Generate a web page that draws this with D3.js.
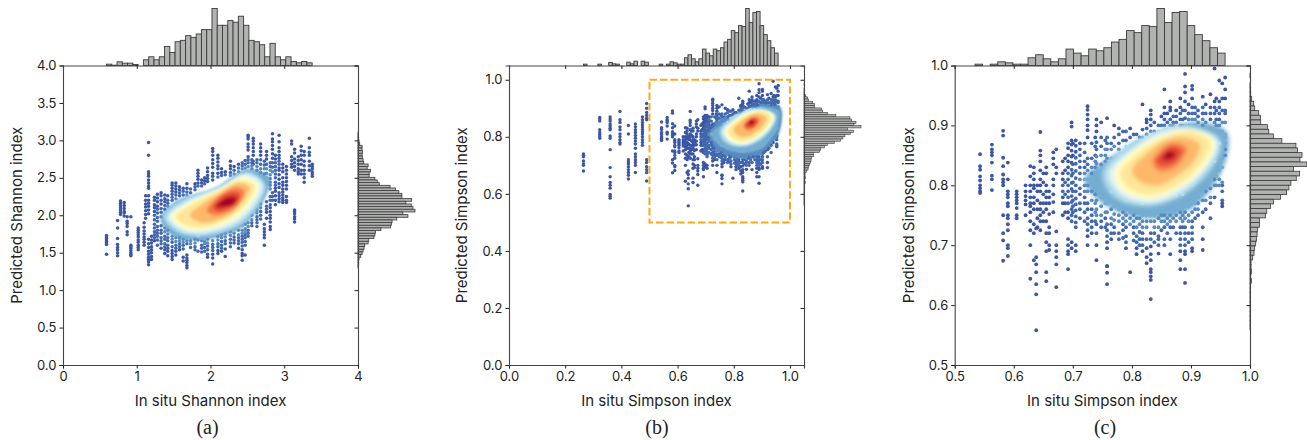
<!DOCTYPE html>
<html>
<head>
<meta charset="utf-8">
<script src="https://cdn.jsdelivr.net/npm/d3@7"></script>
<style>
  html, body { margin: 0; padding: 0; background: #fff; }
  text { font-family: Inter, "Noto Sans", sans-serif; fill: #222; }
  .caption { font-family: "Liberation Serif", serif; font-size: 20px; }
</style>
</head>
<body>
<div id="chart"></div>
<script>
var shannonColumns = [
  [.59,[1.73,1.71,1.69,1.67,1.65,1.63,1.61,1.48]],
  [.74,[1.93,1.83,1.69,1.61,1.57,1.54,1.5,1.46]],
  [.78,[2.19,2.16,2.13,2.1,2.07,2.04,2.01]],
  [.83,[2.17,2.13,2.09,2.05,2.03,1.99]],
  [.87,[1.98,1.92,1.89,1.85,1.78,1.74]],
  [.92,[1.98,1.6,1.58,1.56,1.53,1.5,1.48,1.46]],
  [1.02,[1.83,1.8,1.77,1.74,1.71,1.67,1.64,1.6,1.57,1.54]],
  [1.1,[1.9,1.84,1.79,1.75,1.71,1.68,1.64,1.6]],
  [1.12,[2.26,2.2,2.15,2.11,2.06,2.01,1.96]],
  [1.16,[2.97,2.8,2.58,2.55,2.52,2.47,2.43,2.39,2.36,2.26,2.2,2.16,2.12,2.07,2.02,1.68,1.62,1.57,1.52,1.48,1.44,1.41,1.38,1.34]],
  [1.2,[1.72,1.67,1.63,1.58,1.54,1.5,1.45,1.41]],
  [1.24,[2.24,2.2,2.14,2.1,2.05,2,1.94,1.88,1.83,1.78,1.74,1.7,1.66]],
  [1.28,[2.28,2.23,2.18,2.12,2.08,2.03,1.97,1.92,1.85,1.8,1.76,1.72,1.67,1.6]],
  [1.33,[2.3,2.26,2.2,2.15,2.09,2.04,1.98,1.86,1.8,1.76,1.7,1.66,1.62,1.56]],
  [1.38,[2.27,2.22,2.18,2.13,2.08,1.83,1.78,1.72,1.68,1.62,1.58,1.54,1.49]],
  [1.42,[2.26,2.2,2.16,2.12,1.8,1.75,1.7,1.66,1.6,1.56,1.52,1.46]],
  [1.48,[2.43,2.4,2.36,2.32,2.28,2.24,2.2,1.78,1.72,1.68,1.64,1.58,1.53,1.49,1.45,1.41]],
  [1.53,[2.43,2.39,2.35,2.31,2.27,2.22,1.75,1.7,1.65,1.6,1.56,1.52,1.47]],
  [1.58,[2.38,2.34,2.3,2.26,1.74,1.7,1.66,1.62,1.58,1.54]],
  [1.63,[2.36,2.32,2.27,1.72,1.68,1.64,1.6,1.55,1.44,1.39]],
  [1.68,[2.42,2.36,2.31,2.27,1.7,1.66,1.62,1.47,1.43,1.4,1.37,1.33,1.3]],
  [1.73,[2.35,2.3,1.7,1.66,1.62,1.57]],
  [1.79,[2.42,2.38,2.34,1.72,1.68,1.63,1.58,1.54]],
  [1.83,[2.6,2.56,2.52,2.48,2.43,2.39,1.73,1.67,1.52]],
  [1.88,[2.47,2.43,2.39,1.7,1.66,1.6,1.56,1.51]],
  [1.92,[2.5,2.46,2.42,1.69,1.65,1.62,1.57,1.52]],
  [1.96,[2.63,2.58,2.53,2.49,2.45,1.68,1.63,1.59,1.54,1.48,1.44]],
  [2.03,[2.89,2.85,2.8,2.74,2.69,2.64,2.56,2.52,2.47,1.66,1.61,1.57,1.53,1.48,1.43,1.35]],
  [2.1,[2.8,2.76,2.71,2.66,2.62,2.56,2.51,1.72,1.67,1.62,1.58,1.53,1.49]],
  [2.15,[2.62,2.57,2.53,1.74,1.7,1.65,1.6,1.56,1.52]],
  [2.2,[2.58,2.54,1.76,1.71,1.66,1.62,1.55,1.45]],
  [2.27,[2.72,2.66,2.62,2.57,2.53,1.78,1.73,1.68,1.63,1.58]],
  [2.32,[2.65,2.6,2.55,1.82,1.76,1.71,1.67,1.63]],
  [2.38,[2.68,2.63,2.58,1.86,1.8,1.74,1.7,1.66,1.62,1.56]],
  [2.43,[2.7,2.66,2.62,1.86,1.8,1.76,1.72,1.68,1.64,1.59,1.54,1.49,1.46,1.4]],
  [2.47,[2.73,2.68,2.63,1.88,1.82,1.78,1.74,1.7,1.65,1.6,1.47]],
  [2.51,[3.07,3.05,3.02,2.95,2.91,2.87,2.78,2.74,2.7,2.65,1.9,1.85,1.8,1.76,1.72]],
  [2.56,[2.74,2.7,2.66,2.62,2.15,2.1,2.05,2,1.94,1.9,1.86]],
  [2.58,[3.03,2.99,2.95,2.9,2.85,2.8,2.72,2.68]],
  [2.63,[2.74,2.7,2.65,2.6,2.12,2.07,2.03,1.98,1.94,1.9,1.85]],
  [2.68,[2.95,2.9,2.85,2.8,2.74,2.68,2.62,2.57,2.15,2.1,2.05,2,1.95]],
  [2.73,[2.72,2.67,2.62,2.55,2.5,1.88,1.82,1.78,1.74,1.7,1.6]],
  [2.76,[2.85,2.8,2.75,2.68,2.62,2.56,2.5,2.45,2.42,2.18,2.12,2.08,2.04,1.96]],
  [2.81,[2.7,2.65,2.6,2.54,2.49,2.44,2.4,2.35,2.25,2.2,2.14,2.1,2.05,2,1.96,1.91,1.85,1.81]],
  [2.84,[3.09,3.02,2.98,2.93,2.88,2.82,2.76,2.7,2.64,2.58,2.3,2.25,2.2]],
  [2.88,[2.8,2.75,2.7,2.65,2.6,2.55,2.5,2.44,2.4,2.36,2.32,2.26,2.2,2.14]],
  [2.93,[3.07,2.98,2.9,2.85,2.8,2.76,2.72,2.68,2.63,2.6,2.54,2.48,2.42,2.37,2.3,2.26,2.22,2.18]],
  [2.98,[2.68,2.63,2.58,2.5,2.44,2.4,2.35,2.31,2.27,2.23,2.2,2.17]],
  [3.03,[2.65,2.6,2.55,2.5,2.45,2.4,2.35,2.25,2.2,2.17]],
  [3.1,[2.99,2.95,2.78,2.73,2.68,2.64]],
  [3.14,[2.88,2.83,2.75,2.7,2.65,2.6,2.07,2.05,2.02,1.98,1.95,1.91]],
  [3.19,[2.78,2.73,2.68,2.62,2.58,2.55]],
  [3.23,[2.92,2.86,2.8,2.74,2.68,2.6,2.55]],
  [3.27,[2.85,2.8,2.72,2.66,2.6,2.55,2.5,2.44]],
  [3.34,[3.03,2.9,2.84,2.8,2.72,2.66,2.6]],
  [3.38,[2.68,2.65,2.62,2.58,2.55,2.52]]
];

var simpsonColumns = [
  [.265,[.74,.735,.73,.715,.705,.7,.68]],
  [.323,[.868,.862,.855,.825,.815,.808,.8,.795]],
  [.36,[.87,.862,.855,.845,.838,.83,.825,.803,.795,.755,.692,.66,.64,.63,.62,.598,.592,.585]],
  [.395,[.889,.86,.85,.835,.825,.81,.8,.79,.78,.775]],
  [.425,[.84,.81,.72,.712,.705,.695,.685,.675,.665,.652]],
  [.45,[.845,.835,.825,.815,.805,.795,.785,.775,.76,.74,.73,.72,.71,.7,.675]],
  [.475,[.87,.86,.85,.842,.834,.826,.818,.81,.8,.79,.78,.77]],
  [.49,[.917,.9,.885,.875,.865,.86,.72,.71,.695,.685,.675,.645]],
  [.543,[.852,.832,.826,.815,.808,.8,.795,.79,.787]],
  [.563,[.868,.86,.855,.85,.838,.816,.81,.792]],
  [.582,[.891,.883,.846,.832,.818,.81,.805,.8,.75,.72,.708,.674]],
  [.59,[.838,.81,.79,.785,.78,.77,.765,.75,.745,.735,.725,.7,.695,.682]],
  [.605,[.79,.785,.78,.775,.77,.762,.75,.745]],
  [.62,[.8,.79,.782,.775,.768,.75]],
  [.628,[.832,.815,.8,.79,.78,.77,.765,.755,.74,.725,.7,.644]],
  [.634,[.83,.82,.81,.8,.795,.78,.77,.76,.735,.72,.675]],
  [.638,[.728,.68,.668,.655,.635,.618,.558]],
  [.64,[.8,.79,.775,.76,.745,.73]],
  [.645,[.889,.858,.85,.84,.825,.81,.8,.79,.77,.76,.75,.74,.725]],
  [.65,[.82,.805,.785,.77,.755,.74]],
  [.655,[.83,.82,.8,.79,.78,.77,.76,.74,.72,.705,.69,.655,.64]],
  [.66,[.79,.78,.77,.752,.73,.72,.7,.692]],
  [.667,[.855,.845,.835,.81,.8,.785,.772,.755]],
  [.672,[.86,.83,.82,.723,.7,.69,.68,.668,.63]],
  [.683,[.84,.82,.81,.8,.79,.78,.77,.75]],
  [.687,[.845,.825,.805,.785,.77,.755]],
  [.692,[.87,.862,.85,.84,.83,.82,.81,.8,.79,.78,.77,.755,.745,.71,.7,.69,.685,.66]],
  [.698,[.905,.898,.875,.868,.858,.848,.838,.826,.816,.804,.794,.782,.772,.76,.75,.74,.705,.695]],
  [.7,[.87,.85,.835,.82,.805,.79,.775,.765,.755]],
  [.705,[.875,.866,.856,.846,.836,.824,.812,.8,.79,.778,.768,.758,.748,.738,.73,.7,.69]],
  [.712,[.87,.86,.85,.84,.83,.82,.81,.795,.785,.77,.76,.745]],
  [.72,[.87,.855,.84,.83,.82,.81,.8,.79,.78,.77,.755,.74]],
  [.725,[.932,.926,.918,.91,.9,.892,.88,.845,.835,.825,.81,.8,.79,.77,.76,.745,.735,.725,.715,.7]],
  [.732,[.87,.845,.83,.82,.81,.79,.775,.76,.75,.74,.73,.72]],
  [.738,[.88,.865,.85,.84,.83,.82,.81,.795,.785,.77,.755,.74]],
  [.74,[.91,.9,.89,.872,.86,.848,.836,.82,.805,.79,.775,.76,.75,.735,.72,.7,.675]],
  [.748,[.905,.88,.865,.85,.835,.822,.81,.795,.78,.765,.75,.74,.73]],
  [.755,[.875,.86,.85,.84,.8,.785,.77,.755,.745,.73]],
  [.758,[.912,.88,.87,.86,.845,.83,.81,.79,.77,.755,.735,.725,.715,.705,.695,.665,.665,.654,.635]],
  [.765,[.87,.86,.845,.83,.815,.79,.775,.76,.745,.735,.72,.71]],
  [.77,[.9,.88,.865,.775,.765,.752,.742,.73,.72]],
  [.778,[.895,.885,.87,.86,.85,.835,.82,.8,.785,.77,.76,.75,.74,.72,.71]],
  [.785,[.89,.875,.765,.755,.745,.735,.725,.712]],
  [.79,[.89,.875,.865,.855,.84,.825,.79,.775,.76,.75,.74,.73,.715,.705,.695]],
  [.797,[.895,.88,.866,.85,.78,.768,.755,.745,.735,.655]],
  [.803,[.885,.87,.775,.762,.75,.74,.73,.72,.708]],
  [.808,[.885,.872,.862,.775,.765,.755,.745,.73,.715,.705,.695,.685]],
  [.813,[.88,.875,.765,.755,.745,.735,.722,.71,.7]],
  [.818,[.935,.893,.88,.87,.77,.76,.75,.74,.73,.72,.71,.7,.69]],
  [.825,[.91,.905,.895,.885,.875,.762,.75,.74,.73,.71,.695,.68,.67]],
  [.832,[.925,.918,.91,.9,.89,.88,.76,.75,.74,.72,.71,.698,.685,.675,.66,.655,.648,.642,.61]],
  [.838,[.905,.89,.885,.76,.75,.74,.73,.72,.705]],
  [.845,[.9,.89,.88,.765,.755,.745,.73,.715,.71,.7,.686]],
  [.85,[.915,.9,.89,.77,.76,.75,.74,.725]],
  [.855,[.96,.93,.92,.91,.9,.893,.772,.76,.75,.74,.73,.71,.7]],
  [.86,[.92,.905,.895,.77,.755,.745,.735,.72]],
  [.865,[.94,.93,.925,.91,.9,.893,.775,.76,.75,.74,.73,.71,.685]],
  [.87,[.915,.905,.9,.775,.765,.755,.745,.73]],
  [.875,[.925,.915,.905,.895,.783,.77,.76,.75,.74,.72]],
  [.882,[.945,.93,.92,.91,.9,.79,.778,.765,.755,.745,.73,.72,.71,.7,.69,.675,.66]],
  [.886,[.925,.91,.9,.785,.77,.76,.75,.74,.73]],
  [.89,[.986,.965,.955,.94,.925,.912,.9,.795,.78,.77,.755,.745,.73,.72,.71,.7,.69,.685,.66,.637]],
  [.896,[.935,.92,.91,.9,.79,.775,.765,.75,.74,.72,.705]],
  [.902,[.966,.96,.945,.93,.92,.91,.9,.8,.785,.77,.755,.74,.73,.72,.71,.695,.69]],
  [.907,[.93,.92,.91,.9,.805,.79,.78,.77,.76,.745]],
  [.912,[.925,.915,.905,.895,.815,.8,.79,.78,.77,.76,.75]],
  [.92,[.948,.93,.92,.91,.9,.89,.825,.81,.79,.775,.755,.73,.71,.692]],
  [.925,[.935,.92,.905,.895,.82,.805,.79,.775,.76]],
  [.933,[.952,.93,.92,.91,.895,.885,.835,.82,.81,.795,.78,.77,.745]],
  [.94,[.995,.94,.93,.92,.905,.89,.88,.85,.84,.825,.81,.8,.78]],
  [.943,[.945,.925,.91,.9,.89,.845,.83,.815,.8]],
  [.948,[.975,.94,.93,.92,.91,.9,.89,.88,.87,.86,.85,.84,.825,.81,.8]],
  [.953,[.97,.945,.925,.905,.89,.875,.86,.845,.83,.805,.8,.79,.775,.77,.765]],
  [.958,[.98,.96,.945,.925,.92,.905,.885,.88,.87,.86,.85]]
];

// how crowded the cloud gets: [level, closed outline of that level in data units]
var shannonLevels = [
  [.08,[[2.95,2.75],[2.5,2.75],[2,2.45],[1.5,2.3],[1.2,2],[1.25,1.6],[1.9,1.5],[2.5,1.6],[2.85,2.2]]],
  [.14,[[2.85,2.6],[2.5,2.68],[2,2.38],[1.5,2.22],[1.28,1.95],[1.45,1.65],[1.9,1.6],[2.45,1.75],[2.8,2.25]]],
  [.2,[[2.8,2.5],[2.5,2.62],[2.05,2.35],[1.55,2.2],[1.32,1.96],[1.5,1.72],[1.9,1.67],[2.4,1.82],[2.75,2.25]]],
  [.3,[[2.74,2.42],[2.5,2.58],[2.1,2.38],[1.6,2.2],[1.36,1.98],[1.55,1.77],[1.9,1.72],[2.4,1.87],[2.7,2.22]]],
  [.4,[[2.7,2.42],[2.48,2.55],[2.1,2.36],[1.65,2.17],[1.42,1.98],[1.6,1.8],[1.9,1.76],[2.38,1.92],[2.66,2.24]]],
  [.5,[[2.65,2.4],[2.45,2.51],[2.1,2.34],[1.68,2.15],[1.47,1.98],[1.63,1.83],[1.9,1.8],[2.35,1.96],[2.6,2.24]]],
  [.58,[[2.6,2.39],[2.42,2.47],[2.1,2.32],[1.72,2.13],[1.53,1.98],[1.68,1.86],[1.92,1.84],[2.32,2],[2.55,2.25]]],
  [.68,[[2.53,2.37],[2.38,2.43],[2.12,2.29],[1.85,2.12],[1.72,2],[1.82,1.92],[2,1.91],[2.3,2.04],[2.48,2.26]]],
  [.78,[[2.46,2.32],[2.36,2.37],[2.18,2.3],[2.02,2.17],[1.95,2.06],[2.05,2],[2.18,2.02],[2.34,2.1],[2.43,2.22]]],
  [.86,[[2.4,2.27],[2.32,2.31],[2.18,2.27],[2.07,2.17],[2.03,2.1],[2.1,2.05],[2.2,2.07],[2.32,2.13],[2.38,2.2]]],
  [.94,[[2.36,2.23],[2.29,2.26],[2.18,2.22],[2.09,2.15],[2.07,2.11],[2.13,2.1],[2.22,2.11],[2.32,2.15]]],
  [1,[[2.33,2.2],[2.26,2.23],[2.18,2.2],[2.12,2.15],[2.12,2.12],[2.18,2.13],[2.26,2.13],[2.32,2.16]]]
];
var simpsonLevels = [
  [.08,[[.965,.93],[.9,.935],[.82,.9],[.72,.875],[.68,.8],[.7,.73],[.8,.7],[.9,.7],[.96,.78]]],
  [.14,[[.965,.905],[.9,.915],[.83,.885],[.75,.86],[.705,.81],[.74,.75],[.82,.725],[.9,.74],[.96,.81]]],
  [.2,[[.96,.89],[.9,.905],[.83,.875],[.77,.85],[.72,.81],[.75,.77],[.82,.745],[.9,.76],[.955,.83]]],
  [.3,[[.95,.875],[.9,.9],[.85,.895],[.79,.865],[.75,.82],[.77,.78],[.825,.765],[.89,.785],[.94,.835]]],
  [.4,[[.945,.875],[.9,.895],[.85,.89],[.8,.86],[.76,.82],[.78,.785],[.83,.77],[.885,.79],[.935,.84]]],
  [.5,[[.94,.875],[.9,.893],[.855,.885],[.805,.86],[.77,.82],[.785,.79],[.83,.777],[.885,.798],[.93,.84]]],
  [.58,[[.932,.872],[.9,.89],[.86,.882],[.815,.857],[.78,.82],[.795,.795],[.835,.785],[.885,.805],[.92,.84]]],
  [.68,[[.915,.868],[.89,.88],[.86,.876],[.825,.853],[.8,.825],[.815,.805],[.845,.8],[.875,.815],[.905,.84]]],
  [.78,[[.893,.862],[.877,.87],[.86,.868],[.845,.855],[.835,.84],[.843,.825],[.858,.824],[.875,.832],[.888,.848]]],
  [.86,[[.885,.857],[.872,.865],[.86,.862],[.848,.85],[.84,.84],[.85,.833],[.862,.833],[.875,.84],[.882,.85]]],
  [.94,[[.875,.855],[.868,.858],[.86,.857],[.853,.85],[.85,.845],[.856,.842],[.864,.842],[.872,.846]]],
  [1,[[.87,.853],[.865,.856],[.859,.855],[.856,.85],[.856,.846],[.861,.844],[.867,.846],[.871,.85]]]
];

var shannonTopStart = .59, shannonTopStep = .0715;
var shannonTop = [4,1,11,7,7,3,0,17,26,17,26,57,39,71,75,89,84,94,107,107,170,120,120,134,129,147,120,75,71,62,26,66,26,17,26,12,8,12,8];
var shannonSideStart = 3.112, shannonSideStep = -.0356;
var shannonSide = [1,1,2,3,5,12,12,13,12,13,15,17,30,27,37,33,33,50,57,63,95,111,121,130,130,159,142,158,163,169,133,148,115,101,99,96,68,52,50,47,32,30,20,18,15,12,8,3,2,2,1];

var simpsonTopStart = .265, simpsonTopStep = .01283;
var simpsonTop = [4,0,0,0,4,0,0,9,5,4,0,0,10,5,13,0,13,10,0,0,0,4,0,4,11,8,4,4,23,32,20,11,20,49,37,29,49,44,53,70,78,104,98,119,116,170,128,158,161,119,92,74,53,37];
var simpsonSideStart = .987, simpsonSideStep = -.00779;
var simpsonSide = [1,0,1,1,2,5,11,14,26,31,32,52,56,70,95,137,142,155,149,170,130,148,138,122,116,109,91,70,61,50,46,28,28,22,21,19,17,13,12,8,3,3,4,2,4,1,1,1,1,1,1,1,1,1,1];

var xTicksA = [0,1,2,3,4], yTicksA = [0,.5,1,1.5,2,2.5,3,3.5,4];
var ticksB = [0,.2,.4,.6,.8,1];
var ticksC = [.5,.6,.7,.8,.9,1];

var color_range = ['#313695','#4575b4','#74add1','#abd9e9','#e0f3f8','#ffffbf','#fee090','#fdae61','#f46d43','#d73027','#a50026'];
var colorScale = d3.scaleLinear()
  .domain([0,.1,.2,.3,.4,.5,.6,.7,.8,.9,1])
  .range(color_range);

var svg = d3.select("#chart").append("svg")
  .attr("width", 1307)
  .attr("height", 440)
  .style("display", "block");

var defs = svg.append("defs");

function drawPanel(o) {
  var x = d3.scaleLinear().domain(o.xDomain).range([o.left, o.right]);
  var y = d3.scaleLinear().domain(o.yDomain).range([o.bottom, o.top]);
  var g = svg.append("g");

  // points first, each takes the colour of the innermost outline it falls in
  var points = [];
  o.columns.forEach(function (c) {
    c[1].forEach(function (v) {
      if (c[0] < o.xDomain[0] || v < o.yDomain[0]) return;
      var level = .05;
      o.levels.forEach(function (l) {
        if (d3.polygonContains(l[1], [c[0], v])) level = l[0];
      });
      points.push({x: c[0], y: v, level: level});
    });
  });
  points.sort(function (a, b) { return a.level - b.level; });

  // solid core of the cloud, where single points can't be told apart any more
  defs.append("filter")
    .attr("id", "blur-" + o.name)
    .attr("x", "-20%").attr("y", "-20%").attr("width", "140%").attr("height", "140%")
    .append("feGaussianBlur")
    .attr("stdDeviation", o.blur);

  var outline = d3.line()
    .x(function (d) { return x(d[0]); })
    .y(function (d) { return y(d[1]); })
    .curve(d3.curveCatmullRomClosed);

  var core = o.levels.filter(function (l) { return l[0] >= o.minFill; });

  // lowest filled level goes under the points, the rest on top
  g.append("g")
    .attr("filter", "url(#blur-" + o.name + ")")
    .selectAll("path")
    .data(core.slice(0, 1))
    .join("path")
    .attr("d", function (d) { return outline(d[1]); })
    .attr("fill", function (d) { return colorScale(d[0]); });

  g.append("g").selectAll("circle")
    .data(points)
    .join("circle")
    .attr("cx", function (d) { return x(d.x); })
    .attr("cy", function (d) { return y(d.y); })
    .attr("r", o.r)
    .attr("fill", function (d) { return colorScale(d.level); });

  g.append("g")
    .attr("filter", "url(#blur-" + o.name + ")")
    .selectAll("path")
    .data(core.slice(1))
    .join("path")
    .attr("d", function (d) { return outline(d[1]); })
    .attr("fill", function (d) { return colorScale(d[0]); });

  if (o.box) {
    g.append("rect")
      .attr("x", x(o.box[0]))
      .attr("y", y(o.box[1]))
      .attr("width", x(o.box[1]) - x(o.box[0]))
      .attr("height", y(o.box[0]) - y(o.box[1]))
      .attr("fill", "none")
      .attr("stroke", "#fca91e")
      .attr("stroke-width", 2)
      .attr("stroke-dasharray", "7.5,3");
  }

  // marginal histograms
  var topH = d3.scaleLinear().domain([0, d3.max(o.topBins)]).range([o.top, o.top - 57]);
  var sideH = d3.scaleLinear().domain([0, d3.max(o.sideBins)]).range([o.right, o.right + 57]);

  g.append("g").selectAll("rect")
    .data(o.topBins.map(function (v, i) { return {v: v, x0: o.topStart + i * o.topStep}; })
      .filter(function (d) { return d.x0 >= o.xDomain[0] - 1e-6; }))
    .join("rect")
    .attr("x", function (d) { return x(d.x0); })
    .attr("width", function (d) { return x(d.x0 + o.topStep) - x(d.x0); })
    .attr("y", function (d) { return topH(d.v); })
    .attr("height", function (d) { return o.top - topH(d.v); })
    .attr("fill", "#b1b3b1")
    .attr("stroke", "#3a3a3a")
    .attr("stroke-width", .9);

  g.append("g").selectAll("rect")
    .data(o.sideBins.map(function (v, i) { return {v: v, y0: o.sideStart + i * o.sideStep}; }))
    .join("rect")
    .attr("x", o.right)
    .attr("width", function (d) { return sideH(d.v) - o.right; })
    .attr("y", function (d) { return y(d.y0); })
    .attr("height", function (d) { return y(d.y0 + o.sideStep) - y(d.y0); })
    .attr("fill", "#b1b3b1")
    .attr("stroke", "#3a3a3a")
    .attr("stroke-width", o.sideStroke);

  // axes. top and right ones belong to the histograms, so ticks point into the plot
  function styleAxis(a) {
    a.selectAll("path").attr("stroke", "#444").attr("stroke-width", 1.1);
    a.selectAll("line").attr("stroke", "#222").attr("stroke-width", 1);
    a.selectAll("text").style("font-size", "13px").attr("fill", "#222");
    a.attr("font-family", null);
  }
  g.append("g").attr("transform", "translate(0," + o.top + ")")
    .call(d3.axisBottom(x).tickValues(o.xTicks).tickSize(3.5).tickFormat("")).call(styleAxis);
  g.append("g").attr("transform", "translate(" + o.right + ",0)")
    .call(d3.axisLeft(y).tickValues(o.yTicks).tickSize(3.5).tickFormat("")).call(styleAxis);
  g.append("g").attr("transform", "translate(0," + o.bottom + ")")
    .call(d3.axisBottom(x).tickValues(o.xTicks).tickSize(3.5).tickPadding(3).tickFormat(d3.format(o.xFormat))).call(styleAxis);
  g.append("g").attr("transform", "translate(" + o.left + ",0)")
    .call(d3.axisLeft(y).tickValues(o.yTicks).tickSize(3.5).tickPadding(3).tickFormat(d3.format(".1f"))).call(styleAxis);

  g.append("text")
    .attr("x", (o.left + o.right) / 2)
    .attr("y", 406)
    .attr("text-anchor", "middle")
    .style("font-size", "15px")
    .text(o.xLabel);

  g.append("text")
    .attr("transform", "translate(" + o.yLabelX + "," + (o.top + o.bottom) / 2 + ") rotate(-90)")
    .attr("text-anchor", "middle")
    .style("font-size", "15px")
    .text(o.yLabel);

  g.append("text")
    .attr("class", "caption")
    .attr("x", o.captionX)
    .attr("y", 434)
    .attr("text-anchor", "middle")
    .text(o.caption);
}

drawPanel({
  name: "a", left: 63, right: 358, top: 65.5, bottom: 365, r: 1.75, blur: 1.6, minFill: .2,
  xDomain: [0, 4], yDomain: [0, 4], xTicks: xTicksA, yTicks: yTicksA, xFormat: "d",
  columns: shannonColumns, levels: shannonLevels,
  topBins: shannonTop, topStart: shannonTopStart, topStep: shannonTopStep,
  sideBins: shannonSide, sideStart: shannonSideStart, sideStep: shannonSideStep, sideStroke: .8,
  xLabel: "In situ Shannon index", yLabel: "Predicted Shannon index", yLabelX: 22,
  caption: "(a)", captionX: 207.5
});

drawPanel({
  name: "b", left: 509, right: 804, top: 65.5, bottom: 365, r: 1.7, blur: 1.3, minFill: .14,
  xDomain: [0, 1.05], yDomain: [0, 1.05], xTicks: ticksB, yTicks: ticksB, xFormat: ".1f",
  columns: simpsonColumns, levels: simpsonLevels, box: [.5, 1],
  topBins: simpsonTop, topStart: simpsonTopStart, topStep: simpsonTopStep,
  sideBins: simpsonSide, sideStart: simpsonSideStart, sideStep: simpsonSideStep, sideStroke: .6,
  xLabel: "In situ Simpson index", yLabel: "Predicted Simpson index", yLabelX: 467,
  caption: "(b)", captionX: 657
});

drawPanel({
  name: "c", left: 954.7, right: 1250, top: 65.5, bottom: 365, r: 1.9, blur: 2, minFill: .2,
  xDomain: [.5, 1], yDomain: [.5, 1], xTicks: ticksC, yTicks: ticksC, xFormat: ".1f",
  columns: simpsonColumns, levels: simpsonLevels,
  topBins: simpsonTop, topStart: simpsonTopStart, topStep: simpsonTopStep,
  sideBins: simpsonSide, sideStart: simpsonSideStart, sideStep: simpsonSideStep, sideStroke: .8,
  xLabel: "In situ Simpson index", yLabel: "Predicted Simpson index", yLabelX: 914,
  caption: "(c)", captionX: 1105
});
</script>
</body>
</html>
